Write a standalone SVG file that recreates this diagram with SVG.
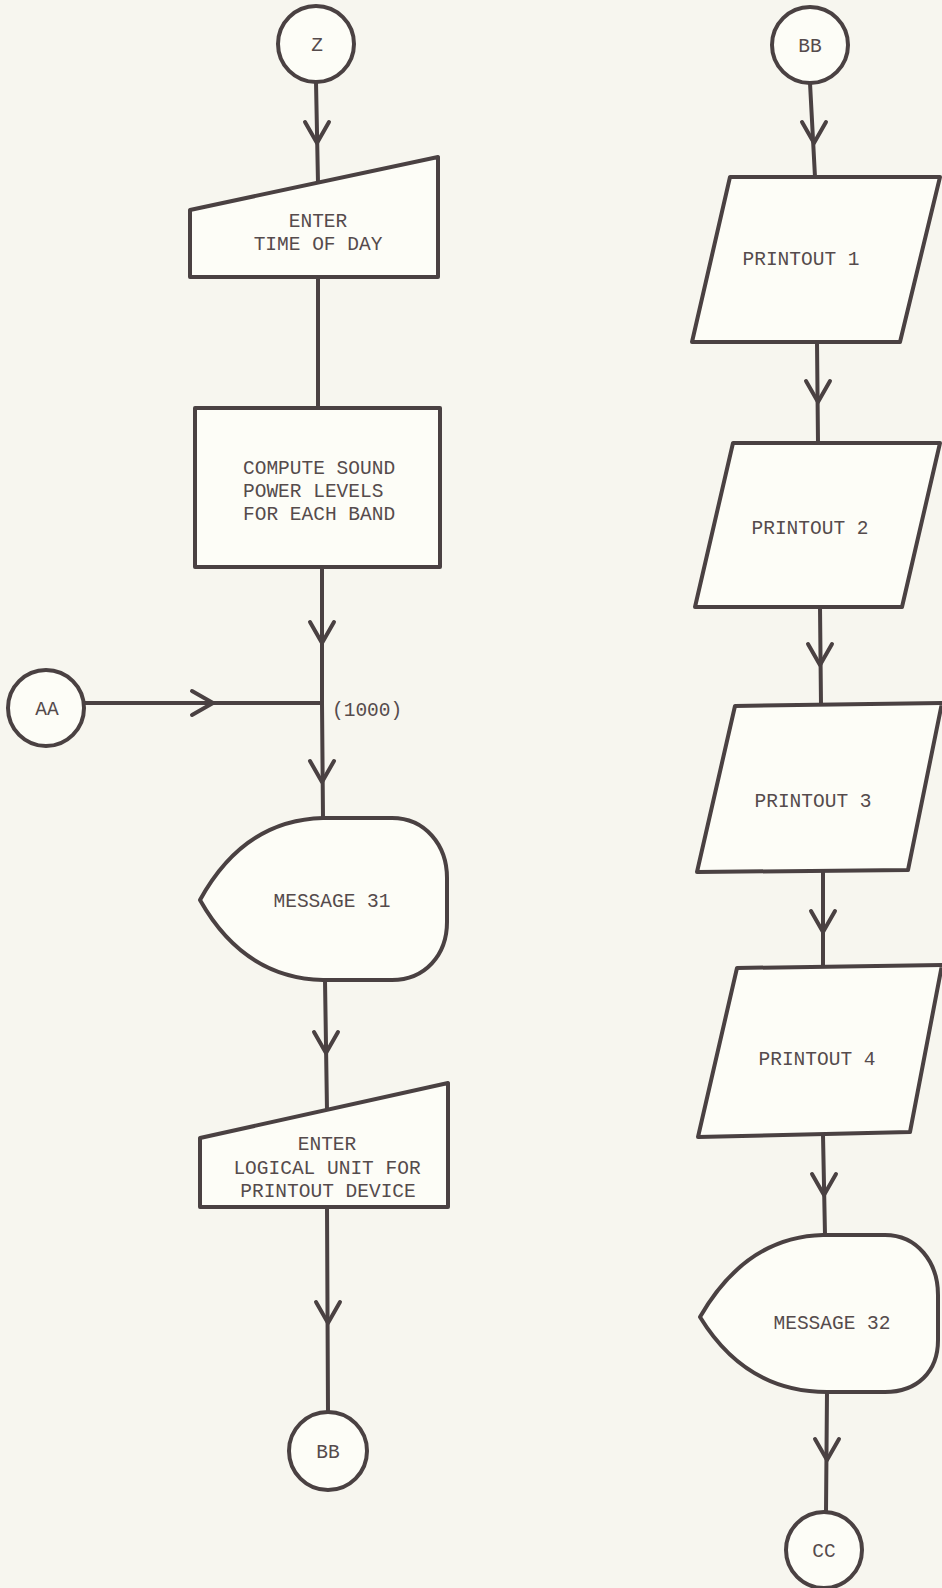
<svg xmlns="http://www.w3.org/2000/svg" xmlns:xlink="http://www.w3.org/1999/xlink" width="942" height="1588" viewBox="0 0 942 1588">
<style>
.s{fill:#fdfdf7;stroke:#4a4142;stroke-width:4;stroke-linejoin:round}
.c{fill:none;stroke:#4a4142;stroke-width:4;stroke-linecap:round;stroke-linejoin:round}
.t{font-family:"Liberation Mono","DejaVu Sans Mono",monospace;font-size:19.5px;fill:#554b4c;text-anchor:middle}
</style>
<defs>
<path id="v" d="M-12,-21 L0,0 L12,-21" class="c"/>
</defs>
<rect width="942" height="1588" fill="#f7f6ef"/>
<g id="connectors">
<line class="c" x1="316" y1="82" x2="318" y2="183"/>
<use xlink:href="#v" href="#v" x="317" y="143"/>
<line class="c" x1="318" y1="277" x2="318" y2="408"/>
<line class="c" x1="322" y1="567" x2="322" y2="703"/>
<use xlink:href="#v" href="#v" x="322" y="643"/>
<line class="c" x1="322" y1="703" x2="323" y2="818"/>
<use xlink:href="#v" href="#v" x="322" y="782"/>
<line class="c" x1="84" y1="703" x2="322" y2="703"/>
<use xlink:href="#v" href="#v" transform="translate(213,703) rotate(-90)"/>
<line class="c" x1="325" y1="980" x2="327" y2="1110"/>
<use xlink:href="#v" href="#v" x="326" y="1053"/>
<line class="c" x1="327" y1="1207" x2="328" y2="1412"/>
<use xlink:href="#v" href="#v" x="328" y="1323"/>
<line class="c" x1="810" y1="83" x2="815" y2="177"/>
<use xlink:href="#v" href="#v" x="814" y="143"/>
<line class="c" x1="817" y1="342" x2="818" y2="443"/>
<use xlink:href="#v" href="#v" x="818" y="402"/>
<line class="c" x1="820" y1="607" x2="821" y2="705"/>
<use xlink:href="#v" href="#v" x="820" y="665"/>
<line class="c" x1="823" y1="871" x2="823" y2="967"/>
<use xlink:href="#v" href="#v" x="823" y="932"/>
<line class="c" x1="823" y1="1135" x2="825" y2="1235"/>
<use xlink:href="#v" href="#v" x="824" y="1195"/>
<line class="c" x1="827" y1="1392" x2="826" y2="1512"/>
<use xlink:href="#v" href="#v" x="827" y="1460"/>
</g>
<g id="node-z">
<circle class="s" cx="316" cy="44" r="38"/>
<text class="t" x="317" y="51">Z</text>
</g>
<g id="node-enter-time">
<polygon class="s" points="190,210 438,157 438,277 190,277"/>
<text class="t" x="318" y="227">ENTER</text>
<text class="t" x="318" y="250">TIME OF DAY</text>
</g>
<g id="node-compute">
<rect class="s" x="195" y="408" width="245" height="159"/>
<text class="t" x="243" y="474" style="text-anchor:start">COMPUTE SOUND</text>
<text class="t" x="243" y="497" style="text-anchor:start">POWER LEVELS</text>
<text class="t" x="243" y="520" style="text-anchor:start">FOR EACH BAND</text>
</g>
<g id="node-aa">
<circle class="s" cx="46" cy="708" r="38"/>
<text class="t" x="47" y="715">AA</text>
</g>
<g id="label-1000">
<text class="t" x="332" y="716" style="text-anchor:start">(1000)</text>
</g>
<g id="node-message31">
<path class="s" d="M200,900 Q244,820 323,818 L392,818 C425,818 447,845 447,878 L447,922 C447,955 425,980 392,980 L323,980 Q244,978 200,900 Z"/>
<text class="t" x="332" y="907">MESSAGE 31</text>
</g>
<g id="node-enter-lu">
<polygon class="s" points="200,1138 448,1083 448,1207 200,1207"/>
<text class="t" x="327" y="1150">ENTER</text>
<text class="t" x="327" y="1174">LOGICAL UNIT FOR</text>
<text class="t" x="328" y="1197">PRINTOUT DEVICE</text>
</g>
<g id="node-bb-out">
<circle class="s" cx="328" cy="1451" r="39"/>
<text class="t" x="328" y="1458">BB</text>
</g>
<g id="node-bb-in">
<circle class="s" cx="810" cy="45" r="38"/>
<text class="t" x="810" y="52">BB</text>
</g>
<g id="node-printout1">
<polygon class="s" points="730,177 940,177 900,342 692,342"/>
<text class="t" x="801" y="265">PRINTOUT 1</text>
</g>
<g id="node-printout2">
<polygon class="s" points="733,443 940,443 902,607 695,607"/>
<text class="t" x="810" y="534">PRINTOUT 2</text>
</g>
<g id="node-printout3">
<polygon class="s" points="735,706 942,703 908,870 697,872"/>
<text class="t" x="813" y="807">PRINTOUT 3</text>
</g>
<g id="node-printout4">
<polygon class="s" points="737,968 942,965 910,1132 698,1137"/>
<text class="t" x="817" y="1065">PRINTOUT 4</text>
</g>
<g id="node-message32">
<path class="s" d="M700,1317 Q746,1237 823,1235 L885,1235 C917,1235 938,1262 938,1295 L938,1340 C938,1372 917,1392 885,1392 L827,1392 Q746,1392 700,1317 Z"/>
<text class="t" x="832" y="1329">MESSAGE 32</text>
</g>
<g id="node-cc">
<circle class="s" cx="824" cy="1550" r="38"/>
<text class="t" x="824" y="1557">CC</text>
</g>
</svg>
